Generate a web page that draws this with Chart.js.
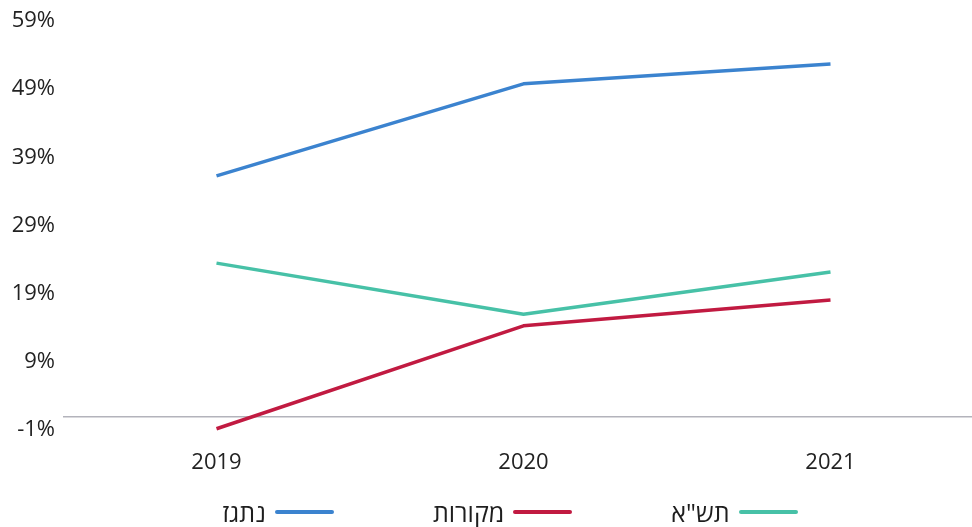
<!DOCTYPE html>
<html lang="he">
<head>
<meta charset="utf-8">
<title>נתגז, מקורות, תש"א</title>
<script src="https://cdn.jsdelivr.net/npm/chart.js@4.4.1/dist/chart.umd.min.js"></script>
<style>
  html, body { margin: 0; padding: 0; background: #ffffff; overflow: hidden; }
  #wrap { position: relative; width: 984px; height: 527px; }
  #legend {
    position: absolute; left: 0; top: 497px; width: 1020px; height: 30px;
    display: flex; direction: rtl; justify-content: center; align-items: center;
    gap: 99px; font-family: "Open Sans", "Liberation Sans", "DejaVu Sans", sans-serif;
    font-size: 25px; color: #1e1e1e;
  }
  .item { display: flex; align-items: center; gap: 9px; }
  .swatch { width: 59px; height: 4px; border-radius: 2px; }
</style>
</head>
<body>
<div id="wrap">
  <canvas id="chart" width="984" height="527"></canvas>
  <div id="legend"></div>
</div>
<script>
// Categories and series (percent)
const years = ['2019', '2020', '2021'];
const natgaz = [35.4, 48.9, 51.8];
const mekorot = [-1.7, 13.4, 17.2];
const tashaa = [22.6, 15.1, 21.3];
const yTicks = [-1, 9, 19, 29, 39, 49, 59];

const seriesNames = ['נתגז', 'מקורות', 'תש"א'];
const seriesColors = ['#3b83cf', '#c11a41', '#47c1a7'];
const seriesData = [natgaz, mekorot, tashaa];

const font = { family: '"Open Sans", "Liberation Sans", "DejaVu Sans", sans-serif', size: 22 };

const chart = new Chart(document.getElementById('chart'), {
  type: 'line',
  data: {
    labels: years,
    datasets: seriesData.map((d, i) => ({
      label: seriesNames[i],
      data: d,
      borderColor: seriesColors[i],
      backgroundColor: seriesColors[i],
      borderWidth: 3.5,
      pointRadius: 0,
      tension: 0,
      fill: false,
      clip: false,
      borderJoinStyle: 'round'
    }))
  },
  options: {
    responsive: false,
    animation: false,
    layout: { padding: { top: 15, left: 0, right: 0, bottom: 0 } },
    plugins: {
      legend: { display: false },
      tooltip: { enabled: false }
    },
    scales: {
      x: {
        offset: true,
        grid: { display: false, drawTicks: false },
        border: { display: false },
        ticks: { font: font, color: '#222', padding: 26 },
        afterFit: s => { s.height = 103; }
      },
      y: {
        min: -1,
        max: 59,
        afterBuildTicks: s => {
          s.ticks = [-1, 0, ...yTicks.slice(1)].map(v => ({ value: v }));
        },
        afterFit: s => {
          s.width = 63;
          s.paddingTop = 0;
          s.paddingBottom = 0;
        },
        grid: {
          drawTicks: false,
          color: c => (c.tick && c.tick.value === 0 ? '#b3b3bb' : 'rgba(0,0,0,0)'),
          lineWidth: 1.5
        },
        border: { display: false },
        ticks: {
          font: font,
          color: '#222',
          padding: 8,
          labelOffset: 6,
          callback: v => (v === 0 ? '' : v + '%')
        }
      }
    }
  }
});

// Legend built from the chart's datasets
const legendEl = document.getElementById('legend');
chart.data.datasets.slice().reverse().forEach(ds => {
  const item = document.createElement('div');
  item.className = 'item';
  const sw = document.createElement('span');
  sw.className = 'swatch';
  sw.style.background = ds.borderColor;
  const tx = document.createElement('span');
  tx.textContent = ds.label;
  item.appendChild(sw);
  item.appendChild(tx);
  legendEl.appendChild(item);
});
</script>
</body>
</html>
